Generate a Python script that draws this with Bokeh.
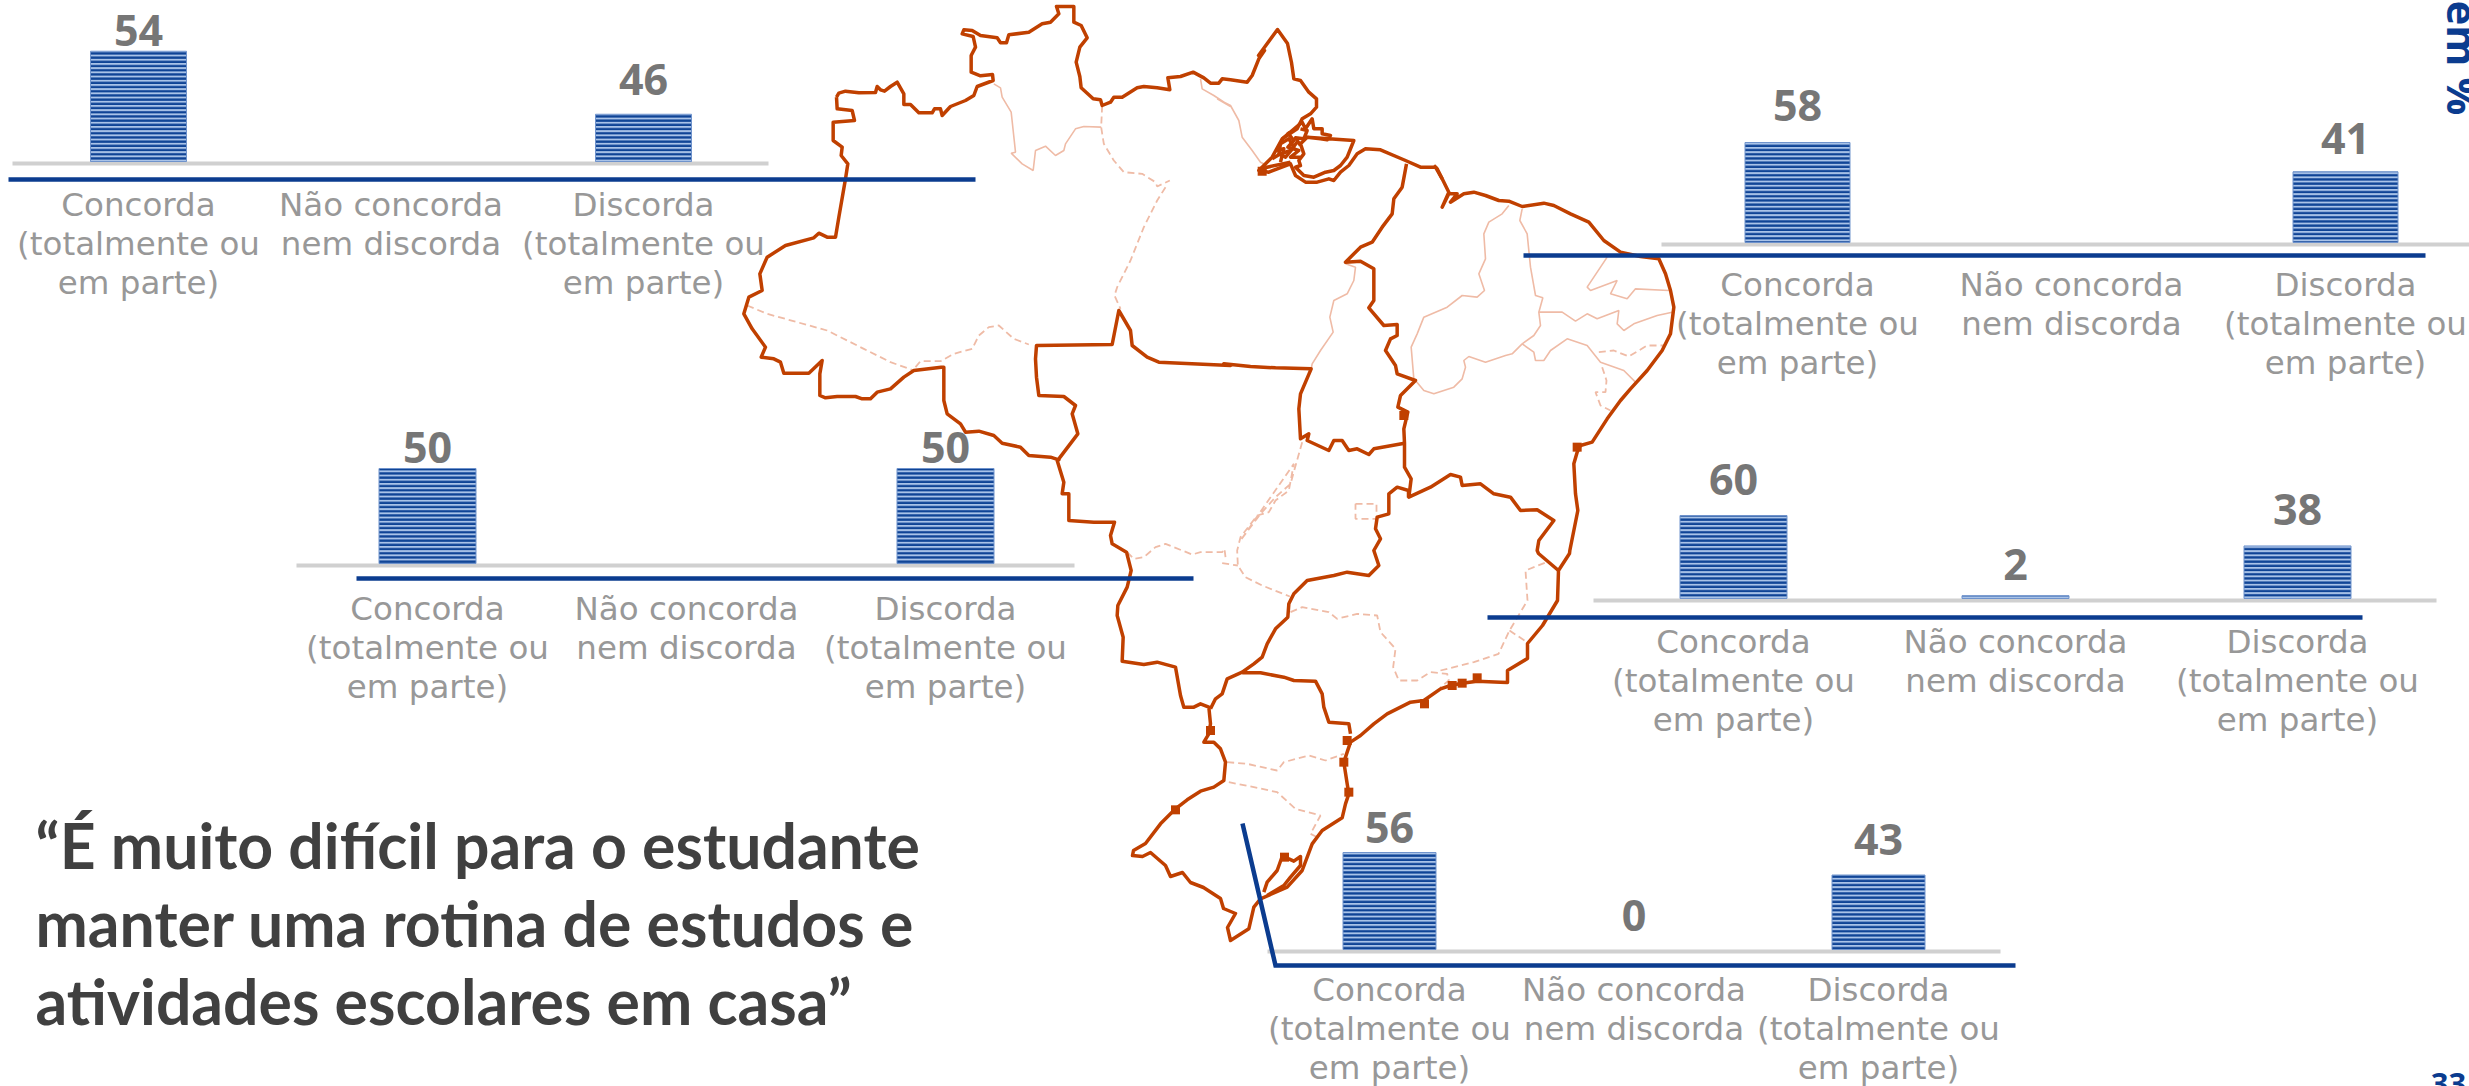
from math import pi
from bokeh.core.properties import value
from bokeh.embed import file_html
from bokeh.models import ColumnDataSource, Range1d
from bokeh.plotting import figure
from bokeh.resources import INLINE

# ---------- data ----------
CATEGORIES = ["Concorda\n(totalmente ou\nem parte)", "Não concorda\nnem discorda", "Discorda\n(totalmente ou\nem parte)"]
NORTE = [54, None, 46]
NORDESTE = [58, None, 41]
CENTRO_OESTE = [50, None, 50]
SUDESTE = [60, 2, 38]
SUL = [56, 0, 43]
TITLE = "“É muito difícil para o estudante\nmanter uma rotina de estudos e\natividades escolares em casa”"
UNIT = "em %"
PAGE = "33"

# map outlines, traced in three map sheets: (origin x, origin y, third-pixel coordinates)
A = (730, 0); B = (1200, 50); C = (1000, 440)
def sheet(o, pts):
    return [(o[0] + x / 3, o[1] + y / 3) for x, y in pts]

OUTER = (
    sheet(A, [(318,290),(325,278),(345,272),(385,277),(435,276),(440,258),(450,268),(462,272),(480,258),(500,245),(520,280),(520,312),(540,312),(565,337),(605,337),(612,325),(630,325),(635,345),(660,318),(705,300),(730,285),(740,258),(788,240),(786,222),(750,226),(722,215),(722,165),(735,140),(728,108),(695,100),(700,88),(725,90),(750,105),(800,112),(810,127),(828,127),(835,103),(895,95),(935,70),(960,65),(985,40),(978,18),(1030,18),(1030,65),(1052,75),(1070,112),(1048,140),(1037,185),(1048,228),(1052,262),(1088,295),(1110,298),(1115,315),(1140,305),(1150,290),(1175,290),(1220,262),(1240,258),(1280,262),(1318,268),(1312,232),(1350,228),(1388,215),(1420,232),(1440,248),(1465,248),(1475,235),(1500,238)])
    + sheet(B, [(140,95),(155,75),(175,25),(192,0)])
    + [(1258,55),(1277,29),(1287,43),(1291,62)]
    + sheet(B, [(280,85),(300,90),(325,125),(348,145),(348,170),(330,190),(305,205),(290,235),(245,265),(215,320),(175,360),(205,365),(270,340),(285,375),(315,395),(350,395),(385,385),(400,390),(420,365),(445,345),(470,310),(495,295),(540,298),(615,330),(660,350),(705,350),(725,385),(745,425),(725,470),(745,430),(770,430),(750,455),(790,430),(820,425),(855,435),(895,450),(925,452),(965,468),(1030,458),(1060,465),(1110,490),(1165,515),(1210,570),(1260,605),(1320,618),(1375,625),(1395,670),(1410,720),(1420,770),(1410,850),(1385,900),(1340,960),(1290,1015),(1260,1050),(1220,1105),(1175,1175),(1140,1185),(1130,1205),(1120,1240),(1125,1330),(1132,1380),(1120,1440),(1108,1500)])
    + [(1569,553),(1558,570),(1557,600),(1542,625),(1527,643),(1527,658),(1507,670)]
    + sheet(C, [(1521,726),(1500,725),(1430,722),(1385,728),(1350,735),(1320,745),(1270,780),(1230,785),(1160,820),(1120,850),(1080,885),(1050,905),(1040,935),(1030,965),(1040,1030),(1045,1060),(1035,1090),(1025,1132),(965,1170),(935,1210),(905,1290),(860,1340),(780,1375),(760,1400),(745,1465)])
    + [(1230,940),(1227,927),(1235,913),(1223,908),(1220,898),(1203,887),(1190,882),(1182,872),(1170,876),(1165,865),(1150,852),(1142,856),(1132,855),(1133,850),(1145,843)]
    + sheet(C, [(480,1150),(525,1105),(560,1078),(600,1052),(640,1040),(670,1020),(675,965),(660,925),(640,905),(610,905),(625,880),(630,850),(625,800),(600,790),(580,800),(550,800),(540,765),(525,680),(470,665),(430,672),(365,662),(368,590),(350,525),(352,495),(380,440),(392,390),(378,335),(335,310),(330,285),(342,245),(280,245),(205,240),(205,160),(185,160),(190,125),(170,60)])
    + sheet(A, [(985,1378),(960,1370),(895,1365),(870,1340),(815,1328),(790,1305),(745,1292),(705,1295),(690,1270),(650,1240),(640,1200),(640,1100),(632,1100),(550,1110),(520,1130),(480,1165),(440,1175),(420,1195),(395,1195),(375,1188),(320,1188),(285,1192),(268,1185),(268,1120),(275,1080),(235,1118),(160,1118),(150,1085),(130,1075),(92,1070),(105,1040),(65,985),(40,940),(55,890),(95,870),(88,820),(110,770),(165,735),(250,712),(265,698),(290,710),(315,710),(325,650),(345,535),(352,490),(332,465),(335,440),(308,420),(308,365),(372,360),(365,330),(320,325),(318,290)])
)

REGION_LINES = [
    sheet(A, [(985,1375),(1042,1300),(1025,1240),(1035,1215),(1000,1188),(925,1185),(918,1130),(915,1075),(918,1035),(1145,1032),(1165,930),(1200,990),(1205,1035),(1250,1070),(1285,1085),(1500,1095)])
    + sheet(B, [(70,940),(150,948),(225,952),(332,955),(300,1030),(295,1075),(300,1165),(325,1150),(320,1170),(385,1200),(400,1170),(425,1170),(445,1200),(470,1195),(505,1212),(520,1195),(612,1178)]),
    sheet(B, [(618,340),(605,410),(580,445),(575,490),(545,530),(515,575),(480,590),(435,635),(480,632),(520,655),(520,750),(505,772),(550,825),(590,822),(590,855),(570,865),(555,900),(585,945),(590,970),(645,990),(600,1035),(592,1070),(622,1085),(610,1135),(612,1178),(612,1250),(632,1285),(625,1340),(690,1310),(750,1272),(780,1280),(785,1305),(840,1300),(880,1330),(930,1340),(960,1380),(1010,1378),(1060,1410),(1015,1470),(1010,1500)])
    + [(1538,553),(1558,570)],
    sheet(C, [(1224,171),(1224,150),(1190,140),(1165,160),(1165,220),(1130,230),(1125,265),(1140,295),(1120,330),(1135,375),(1105,405),(1040,395),(1000,405),(920,420),(880,460),(865,490),(862,530),(825,565),(800,610),(785,650),(760,670),(725,695),(680,715),(665,760),(645,775),(630,805)]),
    sheet(C, [(725,697),(780,697),(850,710),(880,720),(945,722),(965,760),(970,800),(985,845),(1045,850),(1050,880)]),
    sheet(C, [(790,1355),(800,1325),(830,1290),(845,1248),(865,1255),(880,1262),(900,1248),(900,1275),(870,1310),(850,1335),(800,1365)]),
    sheet(B, [(245,265),(275,240),(305,215),(315,235),(335,205),(340,235),(365,235),(365,250),(390,255),(380,268),(360,265),(320,260),(460,270),(440,320),(420,345),(400,360),(375,365),(340,380),(310,375),(285,350),(300,345),(295,330),(310,310),(300,280),(320,260)]),
    sheet(B, [(240,280),(265,265),(280,290),(255,320),(235,310),(240,280)]),
    sheet(B, [(215,325),(240,310),(270,300),(290,275)]),
    sheet(B, [(175,362),(200,350),(270,335)]),
    sheet(B, [(260,245),(280,270),(262,290),(295,300),(270,320),(300,320)]),
    sheet(B, [(300,235),(320,240),(310,265),(285,262),(300,285)]),
    sheet(B, [(225,300),(250,295),(240,335)]),
    sheet(B, [(700,345),(710,355),(725,385)]),
]

BLOTS = [(1272,790,C),(1040,900,C),(1030,965,C),(1045,1055,C),(630,870,C),(1355,735,C),(1385,728,C),(1430,712,C),(525,1108,C),(852,1250,C),(185,362,B),(610,1095,B),(1130,1190,B)]

THIN_SOLID = [
    sheet(A, [(790,250),(810,262),(815,290),(842,335),(848,390),(855,455),(842,458),(875,490),(908,510),(915,450),(945,437),(975,465),(1000,450),(1005,430),(1035,385),(1060,378),(1112,380)]),
    sheet(A, [(1410,235),(1415,265),(1450,285),(1500,318)]) + sheet(B, [(50,145),(90,165),(115,210),(125,260),(155,300),(180,335),(200,345)]),
    sheet(B, [(435,640),(465,650),(460,690),(440,730),(400,750),(388,800),(398,845),(360,900),(335,940),(332,955)]),
    sheet(B, [(925,465),(905,490),(865,515),(850,550),(855,625),(835,670),(852,720),(830,740),(785,735),(740,770),(670,800),(650,850),(632,890),(640,985)]),
    sheet(B, [(965,475),(958,510),(980,550),(990,650),(1005,735),(1027,742),(1015,785),(1020,825),(1000,855),(965,880)]),
    sheet(B, [(645,990),(670,1020),(700,1030),(760,1010),(785,985),(795,950),(790,930),(805,918),(855,935),(915,915),(935,910),(965,880),(1000,905),(1005,930),(1030,930),(1050,900),(1100,865),(1160,885),(1200,935),(1270,960),(1305,995)]),
    sheet(B, [(1220,620),(1200,650),(1160,710),(1170,720),(1250,690),(1230,730),(1280,745),(1305,715),(1405,720)]),
    sheet(B, [(1015,785),(1085,785),(1125,812),(1160,790),(1190,805),(1255,780),(1250,820),(1270,840),(1300,820),(1370,795),(1415,785)]),
]
THIN_DASHED = [
    sheet(A, [(1115,315),(1112,380),(1120,430),(1150,480),(1180,515),(1235,520),(1275,545),(1280,558),(1318,540)]),
    sheet(A, [(1305,560),(1280,600),(1240,680),(1200,780),(1160,860),(1152,885),(1170,925)]),
    sheet(A, [(50,915),(110,940),(200,965),(290,990),(400,1045),(480,1085),(545,1108)]),
    sheet(A, [(555,1100),(570,1082),(630,1082),(670,1060),(725,1045),(745,1005),(775,980),(805,975),(850,1015),(895,1032)]),
    sheet(B, [(1195,905),(1240,900),(1285,918),(1340,885),(1395,885)]),
    sheet(B, [(1205,950),(1218,990),(1215,1025),(1185,1025),(1200,1065),(1230,1080)]),
    sheet(B, [(465,1360),(528,1360),(528,1405),(465,1405),(465,1360)]),
    sheet(B, [(305,1175),(270,1300),(225,1340),(180,1390),(120,1470)]) + sheet(C, [(880,70),(865,150),(825,180),(805,215),(770,225),(720,290),(710,330),(712,375),(735,410),(785,435),(868,468)]),
    sheet(C, [(380,335),(400,355),(430,350),(465,320),(495,310),(575,342),(600,335),(665,335),(672,325),(675,350)]),
    sheet(C, [(665,368),(712,375)]),
    sheet(C, [(870,515),(905,500),(985,515),(1010,535),(1070,520),(1130,525),(1140,575),(1185,625),(1178,680),(1195,720),(1250,720),(1290,695),(1340,700),(1345,720),(1320,740)]),
    sheet(C, [(1320,690),(1420,665),(1494,640)]) + [(1509,630),(1527,600),(1525,570),(1545,562)],
    [(1509,630),(1527,642)],
    sheet(C, [(680,965),(740,970),(830,990),(850,965),(925,945),(975,960),(1030,940)]),
    sheet(C, [(685,1025),(760,1040),(830,1055),(885,1105),(960,1125),(930,1180),(950,1190),(965,1170)]),
]

# panel layout: series, first-bar centre, centre step, bar width, baseline, px per unit, axis floor,
# grey line, blue line, value-label y, category-label top
PANELS = [
    dict(v=NORTE, c0=138, step=252.5, w=96, base=161, s=7.875, floor=40, grey=(12,768,163), blue=[(8,179),(975,179)], label_y=[30,None,79], text_y=185),
    dict(v=NORDESTE, c0=1797, step=274, w=105, base=242, s=1.724, floor=0, grey=(1661,2469,244), blue=[(1523,255),(2425,255)], label_y=[105,None,138], text_y=265),
    dict(v=CENTRO_OESTE, c0=427, step=259, w=97, base=563, s=1.9, floor=0, grey=(296,1074,565), blue=[(356,578),(1193,578)], label_y=[447,None,447], text_y=589),
    dict(v=SUDESTE, c0=1733, step=282, w=107, base=598, s=1.383, floor=0, grey=(1593,2436,600), blue=[(1487,617),(2362,617)], label_y=[479,564,509], text_y=622),
    dict(v=SUL, c0=1389, step=244.5, w=93, base=949, s=1.732, floor=0, grey=(1267,2000,951), blue=[(1242,823),(1275,965),(2015,965)], label_y=[827,915,839], text_y=970),
]

# ---------- figure ----------
W, H = 2469, 1086
L, T = 0, 0
p = figure(width=W, height=H, output_backend="svg", toolbar_location=None,
           x_axis_location=None, y_axis_location=None,
           x_range=Range1d(L, L + W), y_range=Range1d(T + H, T),
           min_border=0, outline_line_color=None, background_fill_color="white")
p.grid.visible = False

ORANGE = "#C04000"
THIN = "#EFBBA6"
BLUE = "#0B3C8F"
GREY_LINE = "#D0D0D0"

p.multi_line([[a for a, _ in l] for l in THIN_SOLID], [[b for _, b in l] for l in THIN_SOLID], line_color=THIN, line_width=1.6)
p.multi_line([[a for a, _ in l] for l in THIN_DASHED], [[b for _, b in l] for l in THIN_DASHED], line_color=THIN, line_width=1.8, line_dash="7 4")
p.line([a for a, _ in OUTER], [b for _, b in OUTER], line_color=ORANGE, line_width=3.5, line_join="round")
p.multi_line([[a for a, _ in l] for l in REGION_LINES], [[b for _, b in l] for l in REGION_LINES], line_color=ORANGE, line_width=3.5, line_join="round")
bx = [o[0] + a / 3 for a, _, o in BLOTS]
by = [o[1] + b / 3 for _, b, o in BLOTS]
p.scatter(bx, by, size=9, color=ORANGE, line_color=None, marker="square")

for i, P in enumerate(PANELS):
    xn, yn = f"x{i}", f"y{i}"
    p.extra_x_ranges[xn] = Range1d((L - P["c0"]) / P["step"], (L + W - P["c0"]) / P["step"])
    p.extra_y_ranges[yn] = Range1d(P["floor"] - (T + H - P["base"]) / P["s"], P["floor"] + (P["base"] - T) / P["s"])
    g = P["grey"]
    p.line([g[0], g[1]], [g[2], g[2]], line_color=GREY_LINE, line_width=4)
    p.line([a for a, _ in P["blue"]], [b for _, b in P["blue"]], line_color=BLUE, line_width=4.5, line_join="miter")
    idx = [k for k, v in enumerate(P["v"]) if v is not None]
    bars = [k for k in idx if P["v"][k] > 0]
    src = ColumnDataSource(dict(x=bars, top=[P["v"][k] for k in bars], bottom=[P["floor"]] * len(bars)))
    p.vbar(x="x", top="top", bottom="bottom", width=P["w"] / P["step"], source=src, x_range_name=xn, y_range_name=yn,
           fill_color="#A9C3E8", line_color="#6F93CC", line_width=1,
           hatch_pattern="horizontal_line", hatch_color="#0F4496", hatch_weight=2.4, hatch_scale=4.2)
    p.text(x=idx, y=[P["label_y"][k] for k in idx], text=[str(P["v"][k]) for k in idx], x_range_name=xn,
           text_font=value("Open Sans"), text_font_style="bold", text_font_size="43px", text_color="#767676",
           text_align="center", text_baseline="middle")
    p.text(x=[0, 1, 2], y=[P["text_y"]] * 3, text=CATEGORIES, x_range_name=xn,
           text_font=value("DejaVu Sans"), text_font_size="32.5px", text_color="#989898",
           text_align="center", text_baseline="top", text_line_height=1.03)

p.text(x=[35], y=[806], text=[TITLE], text_font=value("Lato"), text_font_style="bold", text_font_size="62.5px",
       text_color="#404040", text_align="left", text_baseline="top", text_line_height=1.04)
p.text(x=[2463], y=[0], text=[UNIT], angle=-pi / 2, text_font=value("Open Sans"), text_font_style="bold",
       text_font_size="42px", text_color=BLUE, text_align="left", text_baseline="middle")
p.text(x=[2448], y=[1072], text=[PAGE], text_font=value("Open Sans"), text_font_style="bold",
       text_font_size="31px", text_color=BLUE, text_align="center", text_baseline="top")

open("out.html", "w").write(file_html(p, INLINE))
